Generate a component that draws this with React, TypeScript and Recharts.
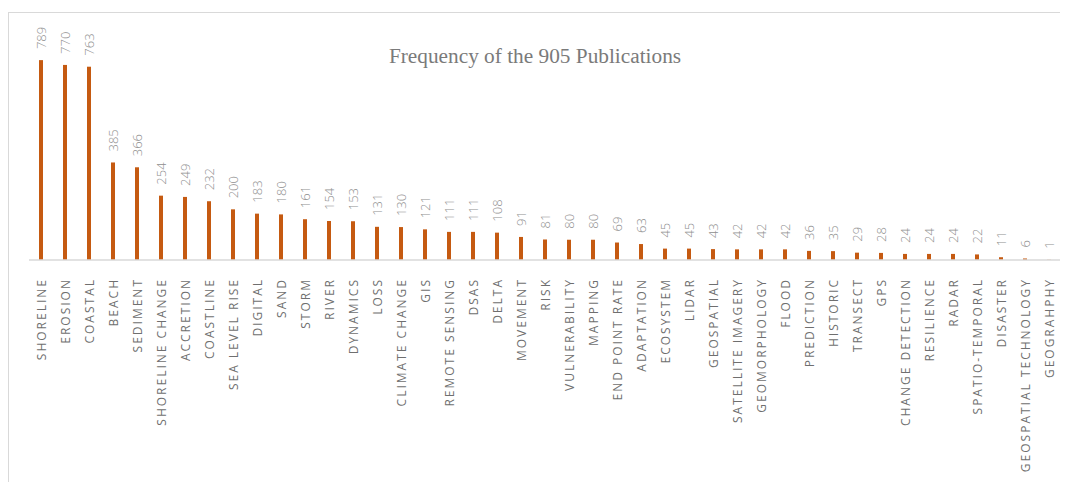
import React from 'react';
import { BarChart, Bar, XAxis, YAxis, LabelList } from 'recharts';

const keywords = [
  'SHORELINE', 'EROSION', 'COASTAL', 'BEACH', 'SEDIMENT', 'SHORELINE CHANGE', 'ACCRETION',
  'COASTLINE', 'SEA LEVEL RISE', 'DIGITAL', 'SAND', 'STORM', 'RIVER', 'DYNAMICS', 'LOSS',
  'CLIMATE CHANGE', 'GIS', 'REMOTE SENSING', 'DSAS', 'DELTA', 'MOVEMENT', 'RISK',
  'VULNERABILITY', 'MAPPING', 'END POINT RATE', 'ADAPTATION', 'ECOSYSTEM', 'LIDAR',
  'GEOSPATIAL', 'SATELLITE IMAGERY', 'GEOMORPHOLOGY', 'FLOOD', 'PREDICTION', 'HISTORIC',
  'TRANSECT', 'GPS', 'CHANGE DETECTION', 'RESILIENCE', 'RADAR', 'SPATIO-TEMPORAL',
  'DISASTER', 'GEOSPATIAL TECHNOLOGY', 'GEOGRAHPHY',
];

const counts = [
  789, 770, 763, 385, 366, 254, 249, 232, 200, 183, 180, 161, 154, 153, 131, 130, 121, 111,
  111, 108, 91, 81, 80, 80, 69, 63, 45, 45, 43, 42, 42, 42, 36, 35, 29, 28, 24, 24, 24, 22,
  11, 6, 1,
];

const chartTitle = 'Frequency of the 905 Publications';

const data = keywords.map((k, i) => ({ keyword: k, count: counts[i] }));

const KeywordTick = ({ x, y, payload }: any) => (
  <text
    x={x}
    y={y + 10}
    transform={`rotate(-90, ${x}, ${y + 10})`}
    textAnchor="end"
    dominantBaseline="central"
    fill="#6f6f6f"
    fontSize={12}
    letterSpacing={2}
    fontFamily="'Open Sans', sans-serif"
  >
    {payload.value}
  </text>
);

const CountLabel = ({ x, y, width, value }: any) => {
  const cx = x + width / 2;
  const cy = y - 11;
  return (
    <text
      x={cx}
      y={cy}
      transform={`rotate(-90, ${cx}, ${cy})`}
      textAnchor="start"
      dominantBaseline="central"
      fill="#8f8f8f"
      fontSize={13}
      fontFamily="'Open Sans', sans-serif"
      fontWeight={300}
    >
      {value}
    </text>
  );
};

export default function App() {
  return (
    <div style={{ position: 'relative', width: 1060, height: 474 }}>
      <div
        style={{
          position: 'absolute',
          top: 4,
          left: 0,
          right: 0,
          bottom: 0,
          borderTop: '1.5px solid #d9d9d9',
          borderLeft: '1.5px solid #d9d9d9',
        }}
      />
      <BarChart
        width={1060}
        height={474}
        data={data}
        margin={{ top: 24, right: 7, left: 21, bottom: 0 }}
        barCategoryGap={0}
        style={{ position: 'absolute', top: 0, left: 0 }}
      >
        <text
          x={527}
          y={48}
          textAnchor="middle"
          dominantBaseline="central"
          fill="#7a7a7a"
          fontSize={21.3}
          fontFamily="'Liberation Serif', 'Times New Roman', serif"
        >
          {chartTitle}
        </text>
        <XAxis
          dataKey="keyword"
          interval={0}
          height={222}
          tick={<KeywordTick />}
          tickLine={false}
          axisLine={{ stroke: '#d9d9d9', strokeWidth: 1.5 }}
        />
        <YAxis hide domain={[0, 900]} />
        <Bar dataKey="count" fill="#c55a11" barSize={4} isAnimationActive={false}>
          <LabelList dataKey="count" content={<CountLabel />} />
        </Bar>
      </BarChart>
    </div>
  );
}
